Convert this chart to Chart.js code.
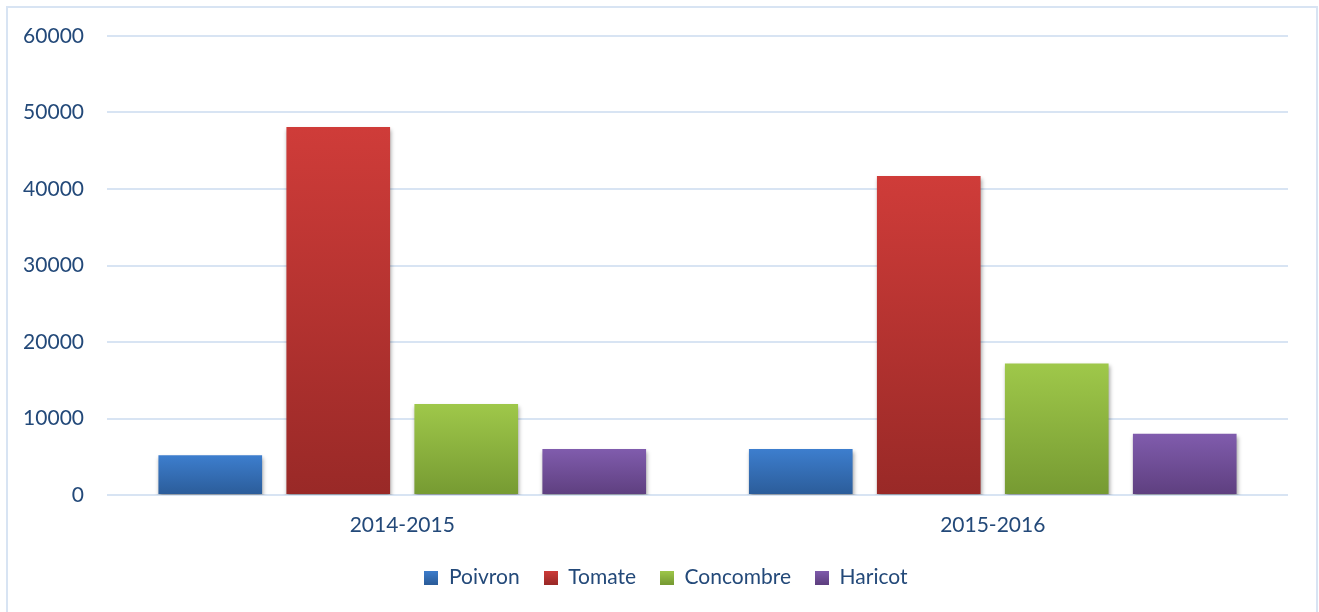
<!DOCTYPE html>
<html>
<head>
<meta charset="utf-8">
<title>Production par culture</title>
<script src="https://cdn.jsdelivr.net/npm/chart.js@4/dist/chart.umd.min.js"></script>
<style>
  html, body { margin: 0; padding: 0; background: #ffffff; }
  #wrap { position: relative; width: 1319px; height: 612px; }
</style>
</head>
<body>
<div id="wrap"><canvas id="c" width="1319" height="612"></canvas></div>
<script>
// Campaigns and production per crop
const campaigns = ['2014-2015', '2015-2016'];
const poivron   = [5200, 6000];
const tomate    = [48100, 41700];
const concombre = [11900, 17200];
const haricot   = [6000, 8000];
const yTicks    = [0, 10000, 20000, 30000, 40000, 50000, 60000];

const seriesNames = ['Poivron', 'Tomate', 'Concombre', 'Haricot'];
const seriesValues = [poivron, tomate, concombre, haricot];
// gradient stops: [top, bottom]
const shades = [
  ['#3D7ECE', '#2B5C99'],
  ['#CF3C39', '#992927'],
  ['#9FC84A', '#769A32'],
  ['#805CAD', '#5E3F7F']
];

const textColor = '#234979';
const gridColor = '#D8E4F3';
const fontFamily = 'Lato, "Open Sans", sans-serif';

function barGradient(i) {
  return function (ctx) {
    const chart = ctx.chart;
    if (!chart.chartArea || ctx.type !== 'data') return shades[i][0];
    const y = chart.scales.y;
    const top = y.getPixelForValue(ctx.raw);
    const base = y.getPixelForValue(0);
    const g = chart.ctx.createLinearGradient(0, top, 0, base);
    g.addColorStop(0, shades[i][0]);
    g.addColorStop(1, shades[i][1]);
    return g;
  };
}

function legendSwatch(i) {
  const c = document.createElement('canvas');
  c.width = 14; c.height = 14;
  const x = c.getContext('2d');
  const g = x.createLinearGradient(0, 0, 0, 14);
  g.addColorStop(0, shades[i][0]);
  g.addColorStop(1, shades[i][1]);
  x.fillStyle = g;
  x.fillRect(0, 0, 14, 14);
  return c;
}
const swatches = seriesNames.map((_, i) => legendSwatch(i));

// outer frame of the chart
const framePlugin = {
  id: 'frame',
  beforeDraw(chart) {
    const ctx = chart.ctx;
    ctx.save();
    ctx.strokeStyle = gridColor;
    ctx.lineWidth = 2;
    ctx.strokeRect(7, 7, 1310, 620);
    ctx.restore();
  }
};

// center the legend under the plot area rather than the whole canvas
const legendShift = {
  id: 'legendShift',
  afterLayout(chart) {
    if (chart.legend) chart.legend.left += 44;
  }
};

// soft drop shadow under the bars
const shadowPlugin = {
  id: 'barShadow',
  beforeDatasetsDraw(chart) {
    const ctx = chart.ctx;
    ctx.save();
    ctx.shadowColor = 'rgba(0,0,0,0.35)';
    ctx.shadowBlur = 4;
    ctx.shadowOffsetX = 1;
    ctx.shadowOffsetY = 3;
  },
  afterDatasetsDraw(chart) {
    chart.ctx.restore();
  }
};

new Chart(document.getElementById('c'), {
  type: 'bar',
  data: {
    labels: campaigns,
    datasets: seriesNames.map((name, i) => ({
      label: name,
      data: seriesValues[i],
      backgroundColor: barGradient(i),
      borderWidth: 0,
      categoryPercentage: 0.867,
      barPercentage: 0.81
    }))
  },
  options: {
    responsive: false,
    animation: false,
    layout: { padding: { top: 36, right: 31, left: 0, bottom: 14 } },
    plugins: {
      tooltip: { enabled: false },
      legend: {
        position: 'bottom',
        labels: {
          color: textColor,
          font: { family: fontFamily, size: 21 },
          usePointStyle: true,
          boxWidth: 14,
          boxHeight: 14,
          padding: 24,
          generateLabels(chart) {
            const items = Chart.defaults.plugins.legend.labels.generateLabels(chart);
            items.forEach((it, i) => { it.pointStyle = swatches[i]; });
            return items;
          }
        }
      }
    },
    scales: {
      x: {
        grid: { display: false, drawTicks: false },
        border: { display: false },
        ticks: {
          color: textColor,
          font: { family: fontFamily, size: 21 },
          padding: 18
        },
        afterFit(scale) { scale.height = 48; }
      },
      y: {
        min: 0,
        max: 60000,
        afterBuildTicks(scale) { scale.ticks = yTicks.map(v => ({ value: v })); },
        grid: { color: gridColor, lineWidth: 2, drawTicks: false },
        border: { display: false },
        ticks: {
          color: textColor,
          font: { family: fontFamily, size: 21 },
          padding: 23,
          callback: v => String(v)
        },
        afterFit(scale) { scale.width = 107; }
      }
    }
  },
  plugins: [framePlugin, legendShift, shadowPlugin]
});
</script>
</body>
</html>
